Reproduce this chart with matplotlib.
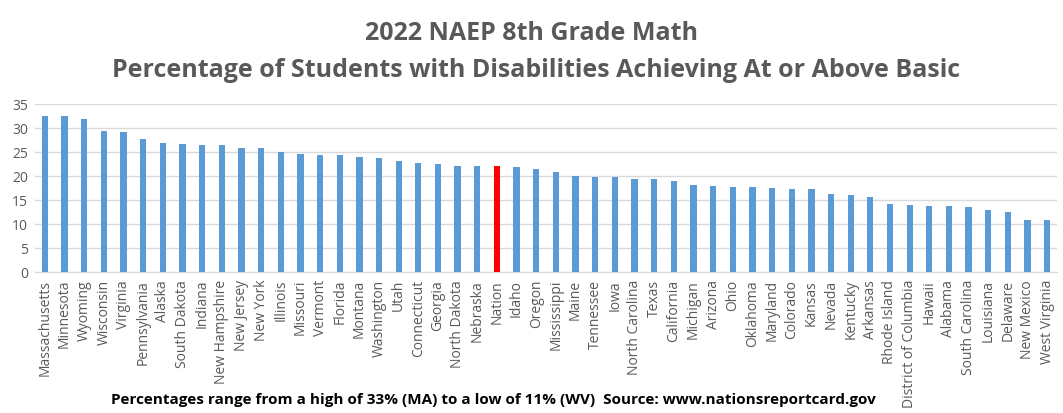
import matplotlib as mpl
mpl.use('Agg')
import matplotlib.pyplot as plt

states = ['Massachusetts', 'Minnesota', 'Wyoming', 'Wisconsin', 'Virginia', 'Pennsylvania',
          'Alaska', 'South Dakota', 'Indiana', 'New Hampshire', 'New Jersey', 'New York',
          'Illinois', 'Missouri', 'Vermont', 'Florida', 'Montana', 'Washington', 'Utah',
          'Connecticut', 'Georgia', 'North Dakota', 'Nebraska', 'Nation', 'Idaho', 'Oregon',
          'Mississippi', 'Maine', 'Tennessee', 'Iowa', 'North Carolina', 'Texas', 'California',
          'Michigan', 'Arizona', 'Ohio', 'Oklahoma', 'Maryland', 'Colorado', 'Kansas', 'Nevada',
          'Kentucky', 'Arkansas', 'Rhode Island', 'District of Columbia', 'Hawaii', 'Alabama',
          'South Carolina', 'Louisiana', 'Delaware', 'New Mexico', 'West Virginia']
pct = [32.5, 32.5, 31.9, 29.4, 29.2, 27.7,
       26.9, 26.7, 26.5, 26.5, 25.8, 25.8,
       25.0, 24.6, 24.4, 24.4, 24.0, 23.8, 23.1,
       22.7, 22.5, 22.1, 22.1, 22.1, 21.9, 21.5,
       20.8, 20.0, 19.8, 19.8, 19.4, 19.4, 19.0,
       18.1, 17.9, 17.7, 17.7, 17.5, 17.3, 17.3, 16.2,
       16.0, 15.6, 14.2, 14.0, 13.7, 13.7,
       13.5, 12.9, 12.5, 10.8, 10.8]

colors = ['#FF0000' if s == 'Nation' else '#5B9BD5' for s in states]

fig = plt.figure(figsize=(10.63, 4.14), dpi=100)
ax = fig.add_axes([0.033, 0.3406, 0.9614, 0.4058])
ax.bar(range(len(states)), pct, width=0.32, color=colors, zorder=3)
ax.set_xlim(-0.5, len(states) - 0.5)
ax.set_ylim(0, 35)
ax.set_yticks(range(0, 36, 5))
ax.set_xticks(range(len(states)))
ax.set_xticklabels(states, rotation=90, fontsize=10, color='#595959', family='Open Sans')
for lab in ax.get_yticklabels():
    lab.set_fontsize(10)
    lab.set_color('#595959')
    lab.set_family('Open Sans')
ax.tick_params(length=0, pad=5)
ax.grid(axis='y', color='#D9D9D9', linewidth=1, zorder=0)
for sp in ['top', 'right', 'left']:
    ax.spines[sp].set_visible(False)
ax.spines['bottom'].set_color('#D9D9D9')

fig.text(0.5, 0.92, '2022 NAEP 8th Grade Math', ha='center', va='center',
         fontsize=18, fontweight='bold', color='#595959', family='Open Sans')
fig.text(0.504, 0.83, 'Percentage of Students with Disabilities Achieving At or Above Basic',
         ha='center', va='center', fontsize=18, fontweight='bold', color='#595959', family='Open Sans')
fig.text(0.464, 0.035, 'Percentages range from a high of 33% (MA) to a low of 11% (WV)  Source: www.nationsreportcard.gov',
         ha='center', va='center', fontsize=11, fontweight='bold', color='black', family='Open Sans')

fig.savefig('out.png', dpi=100)
